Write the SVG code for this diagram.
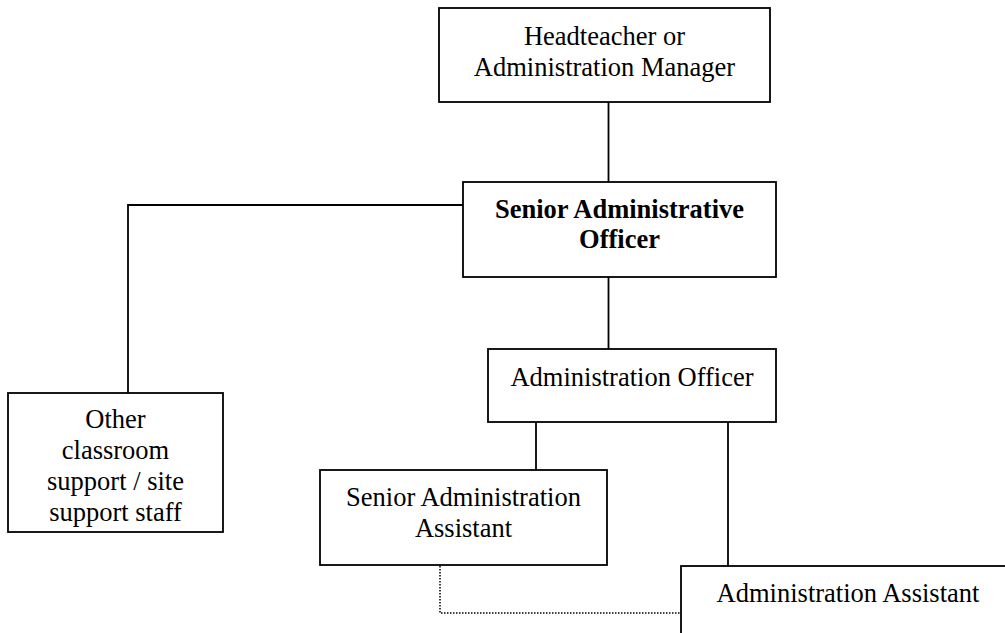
<svg xmlns="http://www.w3.org/2000/svg" width="1005" height="633" viewBox="0 0 1005 633">
<style>
.box{fill:#fff;stroke:#000;stroke-width:1.8}
.ln{fill:none;stroke:#000;stroke-width:1.8}
.dot{fill:none;stroke:#000;stroke-width:1.5;stroke-dasharray:1.5 1.5}
text{font-family:"Liberation Serif","Times New Roman",serif;font-size:26.5px;text-anchor:middle;fill:#000}
.b{font-weight:bold}
</style>
<rect width="1005" height="633" fill="#fff"/>
<g id="connectors">
<line class="ln" x1="608.5" y1="102" x2="608.5" y2="182"/>
<polyline class="ln" points="463,205 128,205 128,393"/>
<line class="ln" x1="608.5" y1="277" x2="608.5" y2="349"/>
<line class="ln" x1="536" y1="422" x2="536" y2="470"/>
<line class="ln" x1="728" y1="422" x2="728" y2="566"/>
<polyline class="dot" points="440,566 440,613 681,613"/>
</g>
<g id="headteacher">
<rect class="box" x="439" y="8" width="331" height="94"/>
<text x="604.5" y="45">Headteacher or</text>
<text x="604.5" y="76">Administration Manager</text>
</g>
<g id="senior-admin-officer">
<rect class="box" x="463" y="182" width="313" height="95"/>
<text class="b" x="619.5" y="218">Senior Administrative</text>
<text class="b" x="619.5" y="248">Officer</text>
</g>
<g id="other-support">
<rect class="box" x="8" y="393" width="215" height="139"/>
<text x="115.5" y="428">Other</text>
<text x="115.5" y="459">classroom</text>
<text x="115.5" y="490">support / site</text>
<text x="115.5" y="521">support staff</text>
</g>
<g id="admin-officer">
<rect class="box" x="488" y="349" width="288" height="73"/>
<text x="632" y="386">Administration Officer</text>
</g>
<g id="senior-admin-assistant">
<rect class="box" x="320" y="470" width="287" height="95"/>
<text x="463.5" y="506">Senior Administration</text>
<text x="463.5" y="537">Assistant</text>
</g>
<g id="admin-assistant">
<rect class="box" x="681" y="566" width="400" height="120"/>
<text x="848" y="602">Administration Assistant</text>
</g>
</svg>
